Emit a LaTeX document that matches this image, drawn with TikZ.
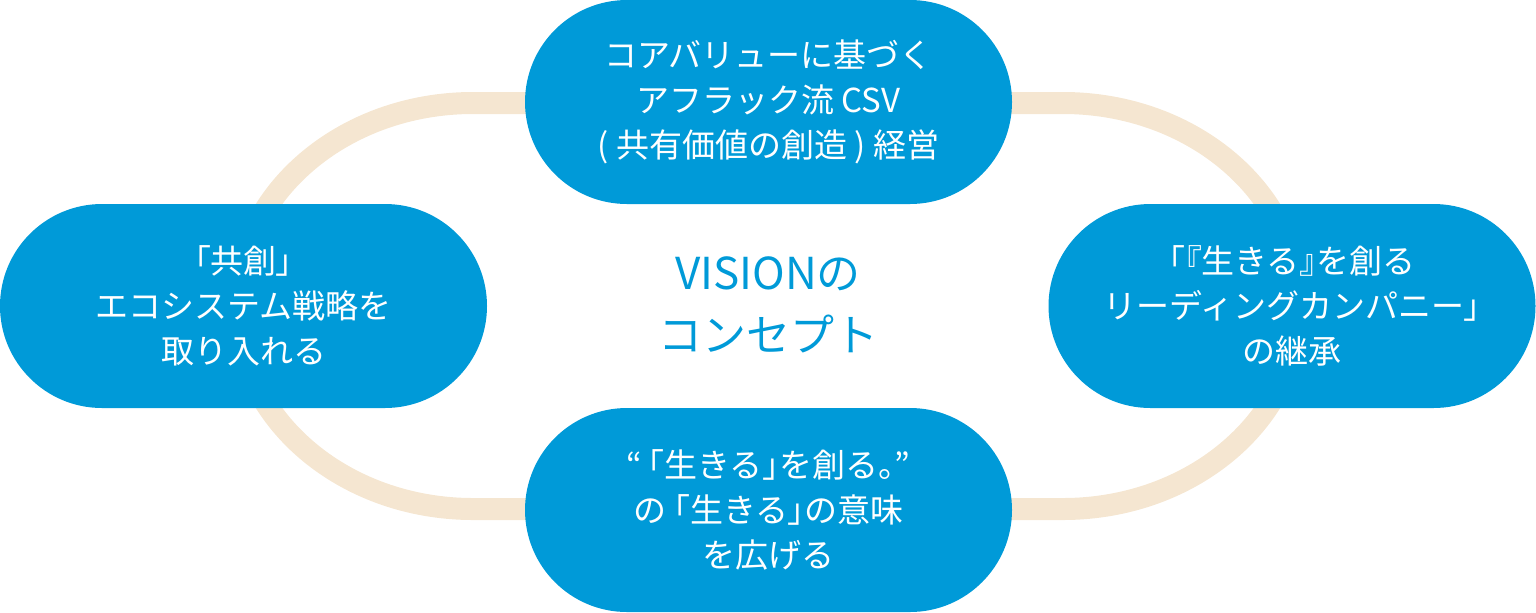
\documentclass[tikz,border=0pt]{standalone}
\usepackage{fontspec}
\setmainfont{Noto Sans CJK JP}
\usepackage[HTML]{xcolor}
\usepackage{tikz}
\usetikzlibrary{positioning}
\definecolor{visionblue}{HTML}{009AD8}
\definecolor{ringbeige}{HTML}{F5E6D1}
\newcommand{\hw}[1]{{\addfontfeatures{RawFeature=+palt}#1}}

\begin{document}
\begin{tikzpicture}[x=0.5pt, y=-0.5pt,
  pill/.style={fill=visionblue, rounded corners=51pt, minimum width=243.5pt,
    minimum height=102pt, inner sep=0pt, text=white, align=center,
    font=\fontsize{16.5}{22.5}\selectfont},
  ring/.style={draw=ringbeige, line width=11pt}]
\useasboundingbox (0,0) rectangle (1536,612);

% --- Loop behind the pills ---
\draw[ring] (473,103) -- (1063,103)
  arc[start angle=90, end angle=-90, x radius=236, y radius=-203]
  -- (473,509)
  arc[start angle=270, end angle=90, x radius=236, y radius=-203] -- cycle;

% --- Pills ---
\node[pill] (csv) at (768.5,102) {コアバリューに基づく\\アフラック流 CSV\\( 共有価値の創造 ) 経営};
\node[pill] (kyoso) at (243.5,306) {\hw{「}共創\hw{」}\\エコシステム戦略を\\取り入れる};
\node[pill] (leading) at (1292,306) {\hw{「『}生きる\hw{』}を創る\\リーディングカンパニー\hw{」}\\の継承};
\node[pill] (meaning) at (768.5,510) {\hw{“\,「}生きる\hw{」}を創る\hw{。”}\\の \hw{「}生きる\hw{」}の意味\\を広げる};

% --- Centre ---
\node[text=visionblue, align=center, font=\fontsize{22}{31}\selectfont] (concept) at (768,305) {VISIONの\\コンセプト};
\end{tikzpicture}
\end{document}
